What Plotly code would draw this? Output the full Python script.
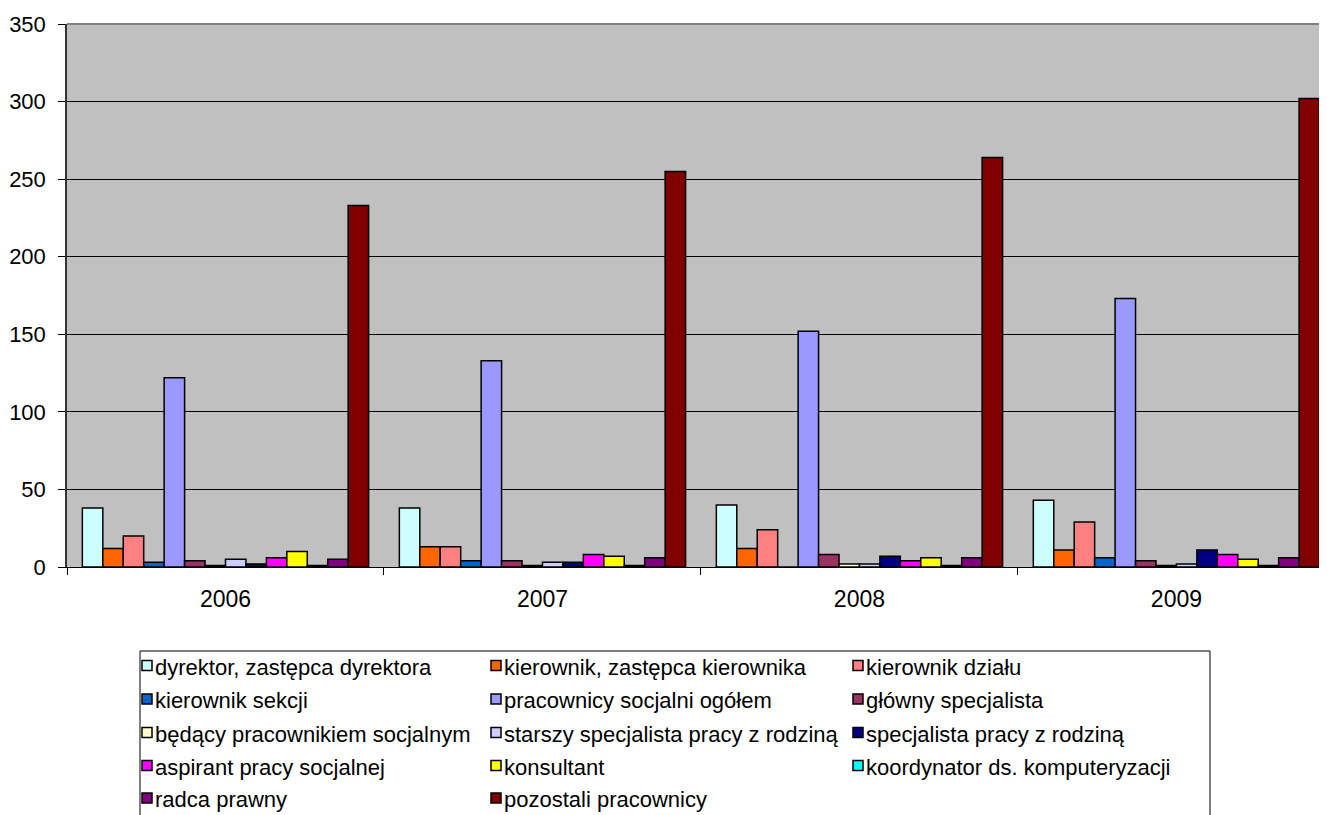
import plotly.graph_objects as go

years = ["2006", "2007", "2008", "2009"]

series_names = [
    "dyrektor, zastępca dyrektora",
    "kierownik, zastępca kierownika",
    "kierownik działu",
    "kierownik sekcji",
    "pracownicy socjalni ogółem",
    "główny specjalista",
    "będący pracownikiem socjalnym",
    "starszy specjalista pracy z rodziną",
    "specjalista pracy z rodziną",
    "aspirant pracy socjalnej",
    "konsultant",
    "koordynator ds. komputeryzacji",
    "radca prawny",
    "pozostali pracownicy",
]

dyrektor = [38, 38, 40, 43]
kierownik_zast = [12, 13, 12, 11]
kierownik_dzialu = [20, 13, 24, 29]
kierownik_sekcji = [3, 4, 0, 6]
pracownicy_socjalni = [122, 133, 152, 173]
glowny_specjalista = [4, 4, 8, 4]
bedacy_pracownikiem = [1, 1, 2, 1]
starszy_specjalista = [5, 3, 2, 2]
specjalista_rodzina = [2, 3, 7, 11]
aspirant = [6, 8, 4, 8]
konsultant = [10, 7, 6, 5]
koordynator = [1, 1, 1, 1]
radca_prawny = [5, 6, 6, 6]
pozostali = [233, 255, 264, 302]

series_values = [
    dyrektor, kierownik_zast, kierownik_dzialu, kierownik_sekcji,
    pracownicy_socjalni, glowny_specjalista, bedacy_pracownikiem,
    starszy_specjalista, specjalista_rodzina, aspirant, konsultant,
    koordynator, radca_prawny, pozostali,
]

colors = [
    "#CCFFFF", "#FF6600", "#FF8080", "#0066CC", "#9999FF", "#993366",
    "#FFFFCC", "#CCCCFF", "#000080", "#FF00FF", "#FFFF00", "#00FFFF",
    "#800080", "#800000",
]

FONT = "Liberation Sans, Arial, sans-serif"
OFF = 8  # page body margin
W, H = 1327 - OFF, 815 - OFF
ML, MT = 67 - OFF, 24 - OFF
BASE = 567 - OFF
MB = H - BASE
plot_h = BASE - MT
plot_w = W - ML


def py(page_y):
    return (BASE - (page_y - OFF)) / plot_h


def px(page_x):
    return ((page_x - OFF) - ML) / plot_w


fig = go.Figure()
for name, vals, col in zip(series_names, series_values, colors):
    fig.add_trace(go.Bar(
        x=years, y=vals, name=name,
        marker=dict(color=col, line=dict(color="black", width=1.5)),
        showlegend=False,
    ))

fig.update_layout(
    width=W, height=H,
    margin=dict(l=ML, r=0, t=MT, b=MB, pad=0),
    paper_bgcolor="white",
    plot_bgcolor="#C0C0C0",
    barmode="group",
    bargap=0.097,
    bargroupgap=0,
    font=dict(family=FONT, size=22, color="black"),
    showlegend=False,
)

fig.update_xaxes(
    type="category",
    range=[-0.5, 3.475],
    showgrid=False,
    showline=True, linecolor="black", linewidth=1,
    ticks="outside", tickson="boundaries", ticklen=7, tickcolor="black",
    ticklabelstandoff=11,
    tickfont=dict(size=23),
    zeroline=False,
)
fig.update_yaxes(
    range=[0, 350],
    dtick=50,
    showgrid=True, gridcolor="black", gridwidth=1,
    showline=True, linecolor="#333333", linewidth=1.5,
    ticks="outside", ticklen=7, tickcolor="black",
    ticklabelstandoff=8,
    tickfont=dict(size=22),
    zeroline=False,
)

# plot area top border
fig.add_shape(type="line", xref="paper", yref="paper", x0=0, x1=1, y0=1, y1=1,
              line=dict(color="#808080", width=2))

# legend box
fig.add_shape(type="rect", xref="paper", yref="paper",
              x0=px(140), x1=px(1210), y0=py(830), y1=py(651),
              line=dict(color="black", width=1), fillcolor="rgba(0,0,0,0)")

# legend entries (3 columns, row-major order)
col_swatch_x = [142, 491, 853]
row_y = [667, 700.5, 734, 767, 799.5]
SW = 10
SWATCH_SHIFT = -1.5
for i, (name, col) in enumerate(zip(series_names, colors)):
    r, c = divmod(i, 3)
    sx = col_swatch_x[c]
    cy = row_y[r]
    scy = cy + SWATCH_SHIFT
    fig.add_shape(type="rect", xref="paper", yref="paper",
                  x0=px(sx), x1=px(sx + SW), y0=py(scy + SW / 2), y1=py(scy - SW / 2),
                  line=dict(color="black", width=1.5), fillcolor=col)
    fig.add_annotation(xref="paper", yref="paper", x=px(sx + SW + 1), y=py(cy),
                       xanchor="left", yanchor="middle", showarrow=False,
                       text=name, font=dict(family=FONT, size=22, color="black"))

fig.write_html("out.html")
